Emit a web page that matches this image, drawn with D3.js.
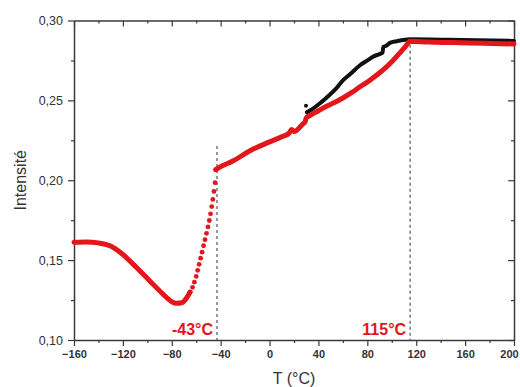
<!DOCTYPE html>
<html>
<head>
<meta charset="utf-8">
<script src="https://cdn.jsdelivr.net/npm/d3@7"></script>
<style>
  html, body { margin: 0; padding: 0; background: #fff; }
  svg { display: block; font-family: "Liberation Sans", Arial, sans-serif; }
</style>
</head>
<body>
<svg id="chart" width="520" height="387"></svg>
<script>
// ---- data ----
const redT = [-160, -150, -140, -130, -120, -109, -98, -87, -80, -76, -72, -68, -65,
  -63, -61.5, -60, -58.8, -57.6, -56.4, -55.2, -54, -52.8, -51.6, -50.4, -49.3, -48.3, -47.3, -46.4, -45.5, -44.6, -44,
  -40, -30, -16, 0, 10, 16, 18, 20, 27.5, 29, 30, 33, 40, 47, 54, 60, 67, 74, 81, 88, 95, 101, 107, 111, 115,
  130, 150, 175, 200];
const redI = [0.1612, 0.1614, 0.1608, 0.1588, 0.1535, 0.1455, 0.1370, 0.1286, 0.1240, 0.1230, 0.1233, 0.1262, 0.1300,
  0.1330, 0.1362, 0.1398, 0.1436, 0.1474, 0.1512, 0.1550, 0.1590, 0.1628, 0.1668, 0.1708, 0.1748, 0.1790, 0.1835, 0.1880, 0.1930, 0.1985, 0.2066,
  0.2085, 0.2120, 0.2185, 0.2240, 0.2272, 0.2295, 0.2318, 0.2305, 0.2355, 0.2365, 0.2390, 0.2405, 0.2435, 0.2465, 0.2490, 0.2515, 0.2548, 0.2585, 0.2620, 0.2660, 0.2705, 0.2750, 0.2800, 0.2835, 0.2870,
  0.2865, 0.2862, 0.2857, 0.2853];

const blackT = [30.5, 35, 41, 47, 54, 60, 66, 74, 80, 85, 91.5, 92.5, 93, 95, 98.5, 104, 115, 140, 170, 200];
const blackI = [0.2425, 0.2445, 0.2480, 0.2520, 0.2570, 0.2625, 0.2665, 0.2720, 0.2750, 0.2775, 0.2795, 0.2800, 0.2835, 0.2840, 0.2860, 0.2870, 0.2882, 0.2880, 0.2877, 0.2872];
const blackDotT = [29.8];
const blackDotI = [0.2466];

const markT = [-43, 115];
const markTop = [0.2215, 0.2885];
const markLabels = ["-43°C", "115°C"];

const xTicks = [-160, -120, -80, -40, 0, 40, 80, 120, 160, 200];
const yTicks = [0.10, 0.15, 0.20, 0.25, 0.30];
const xTitle = "T (°C)";
const yTitle = "Intensité";

// ---- layout ----
const W = 520, H = 387;
const m = { left: 74, right: 6, top: 20.5, bottom: 47 };
const svg = d3.select("#chart");
const x = d3.scaleLinear().domain([-160, 200]).range([m.left, W - m.right]);
const y = d3.scaleLinear().domain([0.10, 0.30]).range([H - m.bottom, m.top]);
const axisCol = "#3a3a3a";
const red = "#e3161c";

const fmtY = v => d3.format(".2f")(v).replace(".", ",");
const xMinor = d3.range(-160, 201, 20).filter(v => !xTicks.includes(v));
const yMinor = [0.125, 0.175, 0.225, 0.275];

function styleAxis(g) {
  g.select(".domain").attr("stroke", axisCol).attr("stroke-width", 1.5);
  g.selectAll(".tick line").attr("stroke", axisCol).attr("stroke-width", 1.2);
}
function minorStyle(g) {
  g.select(".domain").remove();
  g.selectAll(".tick line").attr("stroke", axisCol).attr("stroke-width", 1.2);
}

// bottom
const gB = svg.append("g").attr("transform", `translate(0,${H - m.bottom})`)
  .call(d3.axisBottom(x).tickValues(xTicks).tickSize(6).tickSizeOuter(0).tickPadding(4).tickFormat(d3.format("d")));
styleAxis(gB);
gB.selectAll("text").attr("font-size", 11).attr("font-weight", "bold").attr("fill", "#333")
  .attr("dx", d => d === 200 ? -5 : 0);
svg.append("g").attr("transform", `translate(0,${H - m.bottom})`)
  .call(d3.axisBottom(x).tickValues(xMinor).tickSize(3).tickFormat("")).call(minorStyle);

// top
const gT = svg.append("g").attr("transform", `translate(0,${m.top})`)
  .call(d3.axisBottom(x).tickValues(xTicks).tickSize(6).tickSizeOuter(0).tickFormat(""));
styleAxis(gT);
svg.append("g").attr("transform", `translate(0,${m.top})`)
  .call(d3.axisBottom(x).tickValues(xMinor).tickSize(3).tickFormat("")).call(minorStyle);

// left
const gL = svg.append("g").attr("transform", `translate(${m.left},0)`)
  .call(d3.axisLeft(y).tickValues(yTicks).tickSize(6).tickSizeOuter(0).tickPadding(5).tickFormat(fmtY));
styleAxis(gL);
gL.selectAll("text").attr("font-size", 12.5).attr("fill", "#333");
svg.append("g").attr("transform", `translate(${m.left},0)`)
  .call(d3.axisLeft(y).tickValues(yMinor).tickSize(3).tickFormat("")).call(minorStyle);

// right
const gR = svg.append("g").attr("transform", `translate(${W - m.right},0)`)
  .call(d3.axisLeft(y).tickValues(yTicks).tickSize(6).tickSizeOuter(0).tickFormat(""));
styleAxis(gR);
svg.append("g").attr("transform", `translate(${W - m.right},0)`)
  .call(d3.axisLeft(y).tickValues(yMinor).tickSize(3).tickFormat("")).call(minorStyle);

// axis titles
svg.append("text").attr("x", (m.left + W - m.right) / 2).attr("y", 384)
  .attr("text-anchor", "middle").attr("font-size", 16).attr("fill", "#333").text(xTitle);
svg.append("text").attr("transform", `translate(26,${(m.top + H - m.bottom) / 2}) rotate(-90)`)
  .attr("text-anchor", "middle").attr("font-size", 16).attr("fill", "#333").text(yTitle);

// dashed markers
markT.forEach((t, i) => {
  svg.append("line").attr("x1", x(t)).attr("x2", x(t)).attr("y1", y(markTop[i])).attr("y2", y(0.10))
    .attr("stroke", "#555").attr("stroke-width", 1.2).attr("stroke-dasharray", "3,3");
  svg.append("text").attr("x", x(t) - 4).attr("y", 335).attr("text-anchor", "end")
    .attr("font-size", 16).attr("font-weight", "bold").attr("fill", red).text(markLabels[i]);
});

// black series
const blackData = blackT.map((t, i) => ({ t, v: blackI[i] }));
const line = d3.line().curve(d3.curveMonotoneX).x(d => x(d.t)).y(d => y(d.v));
svg.append("path").datum(blackData).attr("d", line).attr("fill", "none")
  .attr("stroke", "#111").attr("stroke-width", 4).attr("stroke-linejoin", "round").attr("stroke-linecap", "round");
svg.selectAll(".bdot").data(blackDotT.map((t, i) => ({ t, v: blackDotI[i] }))).enter().append("circle")
  .attr("cx", d => x(d.t)).attr("cy", d => y(d.v)).attr("r", 2).attr("fill", "#111");

// red series: continuous where dense, separate dots on the steep rise
const redData = redT.map((t, i) => ({ t, v: redI[i] }));
const steep = d => d.t > -64 && d.t < -44;
svg.append("path").datum(redData)
  .attr("d", d3.line().curve(d3.curveMonotoneX).defined(d => !steep(d)).x(d => x(d.t)).y(d => y(d.v)))
  .attr("fill", "none").attr("stroke", red).attr("stroke-width", 5)
  .attr("stroke-linejoin", "round").attr("stroke-linecap", "round");
svg.selectAll(".rdot").data(redData.filter(d => steep(d) || d.t === -44 || d.t === -65)).enter().append("circle")
  .attr("cx", d => x(d.t)).attr("cy", d => y(d.v)).attr("r", 2.4).attr("fill", red);
</script>
</body>
</html>
